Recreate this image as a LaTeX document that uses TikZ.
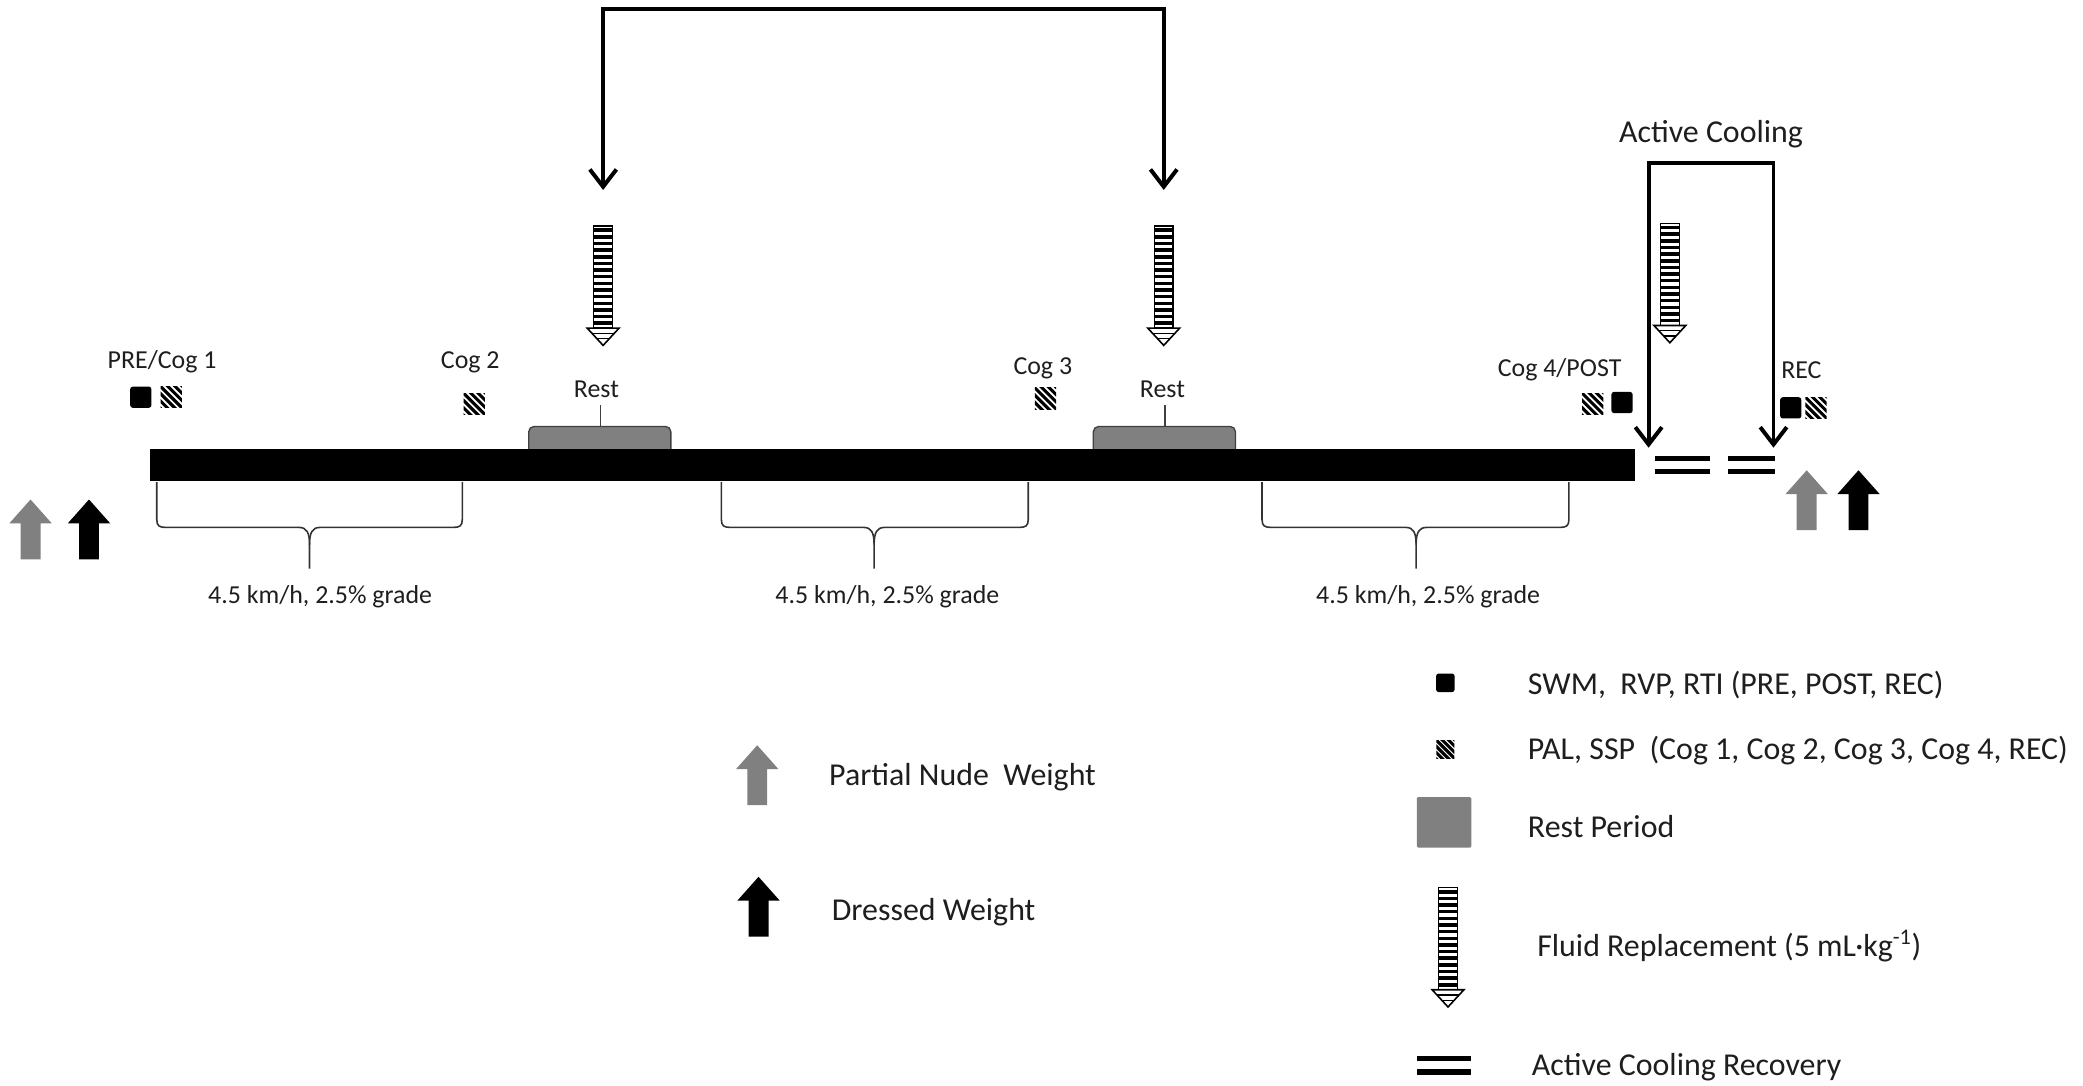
\documentclass[tikz,border=0pt]{standalone}
\usepackage{fontspec}
\setmainfont{Carlito}
\usetikzlibrary{arrows.meta}
\definecolor{restgray}{RGB}{128,128,128}
\definecolor{txt}{RGB}{30,30,30}
\begin{document}
\begin{tikzpicture}[x=1pt,y=-1pt,
  lbl/.style={font=\fontsize{19.5}{22}\selectfont, inner sep=0, text=txt},
  leg/.style={font=\fontsize{24}{28}\selectfont, inner sep=0, anchor=west, text=txt},
  bigarrow/.style={line width=3pt, {Straight Barb[length=13pt,width=20pt]}-{Straight Barb[length=13pt,width=20pt]}},
  blacksq/.style={fill=black, minimum size=16pt, inner sep=0, rounded corners=2pt},
  restbox/.style={fill=restgray, draw=black!75, line width=1pt, rounded corners=4pt},
  bracestyle/.style={draw=black!80, line width=1.2pt},
  eqline/.style={line width=4pt},
  pics/hatch/.style={code={
    \begin{scope}
      \clip (-8,-8) rectangle (8,8);
      \foreach \i in {-22,-16.5,...,22} \draw[line width=2.3pt] (\i-10,-10) -- (\i+10,10);
    \end{scope}}},
  pics/fluid/.style={code={
    \draw[line width=1pt, fill=white] (-7,0) rectangle (7,77);
    \foreach \k in {0,5,...,70} \fill (-7,\k+2) rectangle (7,\k+4.6);
    \draw[line width=1.2pt, fill=white] (-12,77) -- (12,77) -- (0,90) -- cycle;
    \draw[line width=1pt] (-8,81) -- (8,81);
    \draw[line width=1pt] (-4.5,85) -- (4.5,85);}},
  pics/uparrow/.style={code={
    \fill[#1] (-7.5,0) -- (7.5,0) -- (7.5,-27) -- (16,-27) -- (0,-45) -- (-16,-27) -- (-7.5,-27) -- cycle;}}
]
\useasboundingbox (0,0) rectangle (1568,817);

% rest periods
\foreach \cx/\nm in {452/one, 877/two} {
  \draw[restbox] (\cx-54,342) -- (\cx-54,321) -- (\cx+53,321) -- (\cx+53,342);
  \draw[line width=1pt, black!75] (\cx,321) -- (\cx,305);
}
\node[lbl] (restA) at (449,293) {Rest};
\node[lbl] (restB) at (875,293) {Rest};

% main bar
\node[fill=black, minimum width=1118pt, minimum height=24pt, inner sep=0] (bar) at (672,350) {};

% braces and grade labels
\foreach \L/\R/\C/\T in {118/348/233/241, 543/774/658/668, 950/1181/1066/1075} {
  \draw[bracestyle] (\L,363) -- (\L,391) .. controls (\L,396) and (\L+2,397) .. (\L+7,397)
     -- (\C-8,397) .. controls (\C-2,397) and (\C,401) .. (\C,410) -- (\C,428);
  \draw[bracestyle] (\C,410) .. controls (\C,401) and (\C+2,397) .. (\C+8,397)
     -- (\R-7,397) .. controls (\R-2,397) and (\R,396) .. (\R,391) -- (\R,363);
  \node[lbl] (grade\C) at (\T,449) {4.5 km/h, 2.5\% grade};
}

% top bracket with arrows
\coordinate (ta) at (454,143);
\coordinate (tb) at (876,143);
\coordinate (ttop) at (665,7);
\draw[bigarrow] (ta) -- (ta |- ttop) -- (tb |- ttop) -- (tb);

% fluid replacement arrows
\pic at (454,170) {fluid};
\pic at (876,170) {fluid};
\pic at (1257,168) {fluid};

% active cooling
\node[leg, anchor=center] (ac) at (1288,101) {Active Cooling};
\coordinate (ca) at (1241,337);
\coordinate (cb) at (1335,337);
\coordinate (ctop) at (1288,123);
\draw[bigarrow] (ca) -- (ca |- ctop) -- (cb |- ctop) -- (cb);
\draw[eqline] (1246,345) -- (1287,345);
\draw[eqline] (1246,355) -- (1287,355);
\draw[eqline] (1301,345) -- (1336,345);
\draw[eqline] (1301,355) -- (1336,355);

% measurement labels and markers
\node[lbl] (pre) at (122,272) {PRE/Cog 1};
\node[blacksq] (m1) at (106,299) {};
\pic at (129,299) {hatch};
\node[lbl] (cog2) at (354,273) {Cog 2};
\pic at (357,304) {hatch};
\node[lbl] (cog3) at (785,277) {Cog 3};
\pic at (787,300) {hatch};
\node[lbl] (cog4) at (1174,278) {Cog 4/POST};
\pic at (1199,304) {hatch};
\node[blacksq] (m4) at (1221,303) {};
\node[lbl] (rec) at (1356,279) {REC};
\node[blacksq] (m5) at (1348,307) {};
\pic at (1367,307) {hatch};

% weight arrows
\pic at (23,421) {uparrow=restgray};
\pic at (67,421) {uparrow=black};
\pic at (1360,399) {uparrow=restgray};
\pic at (1399,399) {uparrow=black};

% legend left
\pic at (570,606) {uparrow=restgray};
\node[leg] (lpnw) at (624,585) {Partial Nude\ \ Weight};
\pic at (571,705) {uparrow=black};
\node[leg] (ldw) at (626,687) {Dressed Weight};

% legend right
\node[blacksq, minimum size=14pt] (lsq) at (1088,514) {};
\node[leg] (lswm) at (1150,516) {SWM,\ \ RVP, RTI (PRE, POST, REC)};
\pic[scale=0.85] at (1088,564) {hatch};
\node[leg] (lpal) at (1150,565) {PAL, SSP\ \ (Cog 1, Cog 2, Cog 3, Cog 4, REC)};
\node[fill=restgray, minimum width=41pt, minimum height=38pt, inner sep=0, rounded corners=1pt] (lrest) at (1087,619) {};
\node[leg] (lrp) at (1150,622) {Rest Period};
\pic at (1090,668) {fluid};
\node[leg] (lfr) at (1157,712) {Fluid Replacement (5 mL·kg\textsuperscript{-1})};
\draw[eqline] (1067,797) -- (1107,797);
\draw[eqline] (1067,807) -- (1107,807);
\node[leg] (lacr) at (1153,803) {Active Cooling Recovery};
\end{tikzpicture}
\end{document}
